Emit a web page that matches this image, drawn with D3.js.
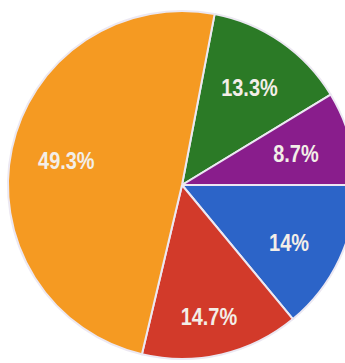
<!DOCTYPE html>
<html><head><meta charset="utf-8">
<script src="https://cdn.jsdelivr.net/npm/d3@7"></script>
<style>html,body{margin:0;padding:0;background:#fff;}svg{display:block;}</style>
</head><body>
<script>
const categories = ["Green", "Purple", "Blue", "Red", "Orange"];
const values = [13.3, 8.7, 14, 14.7, 49.3];
const labels = ["13.3%", "8.7%", "14%", "14.7%", "49.3%"];
const colors = ["#2b7a26", "#891d8c", "#2c64c8", "#d23a2a", "#f59a22"];

const W = 345, H = 363, cx = 182, cy = 185, R = 174;
const svg = d3.select("body").append("svg").attr("width", W).attr("height", H);
const g = svg.append("g").attr("transform", `translate(${cx},${cy})`);

const startA = (90 - (values[0] + values[1]) * 3.6) * Math.PI / 180;
const pie = d3.pie().sort(null).value(d => d.v)
  .startAngle(startA).endAngle(startA + 2 * Math.PI);
const data = categories.map((c, i) => ({c, v: values[i], label: labels[i], color: colors[i]}));
const arcs = pie(data);
const arc = d3.arc().innerRadius(0).outerRadius(R);
const labelArc = d3.arc().innerRadius(R * 0.68).outerRadius(R * 0.68);

g.selectAll("path").data(arcs).join("path")
  .attr("d", arc).attr("fill", d => d.data.color)
  .attr("stroke", "#ece8f2").attr("stroke-width", 2);

g.selectAll("text").data(arcs).join("text")
  .attr("transform", d => {
    let [x, y] = labelArc.centroid(d);
    if (y > 0) y *= 1.14; // photo perspective: lower labels sit further out
    return `translate(${x},${y}) scale(0.95,1.15)`;
  })
  .attr("text-anchor", "middle").attr("dy", "0.36em")
  .attr("font-family", "Liberation Sans, Arial, sans-serif")
  .attr("font-weight", "bold").attr("font-size", 21)
  .attr("fill", "#f3eee8")
  .text(d => d.data.label);
</script>
</body></html>
